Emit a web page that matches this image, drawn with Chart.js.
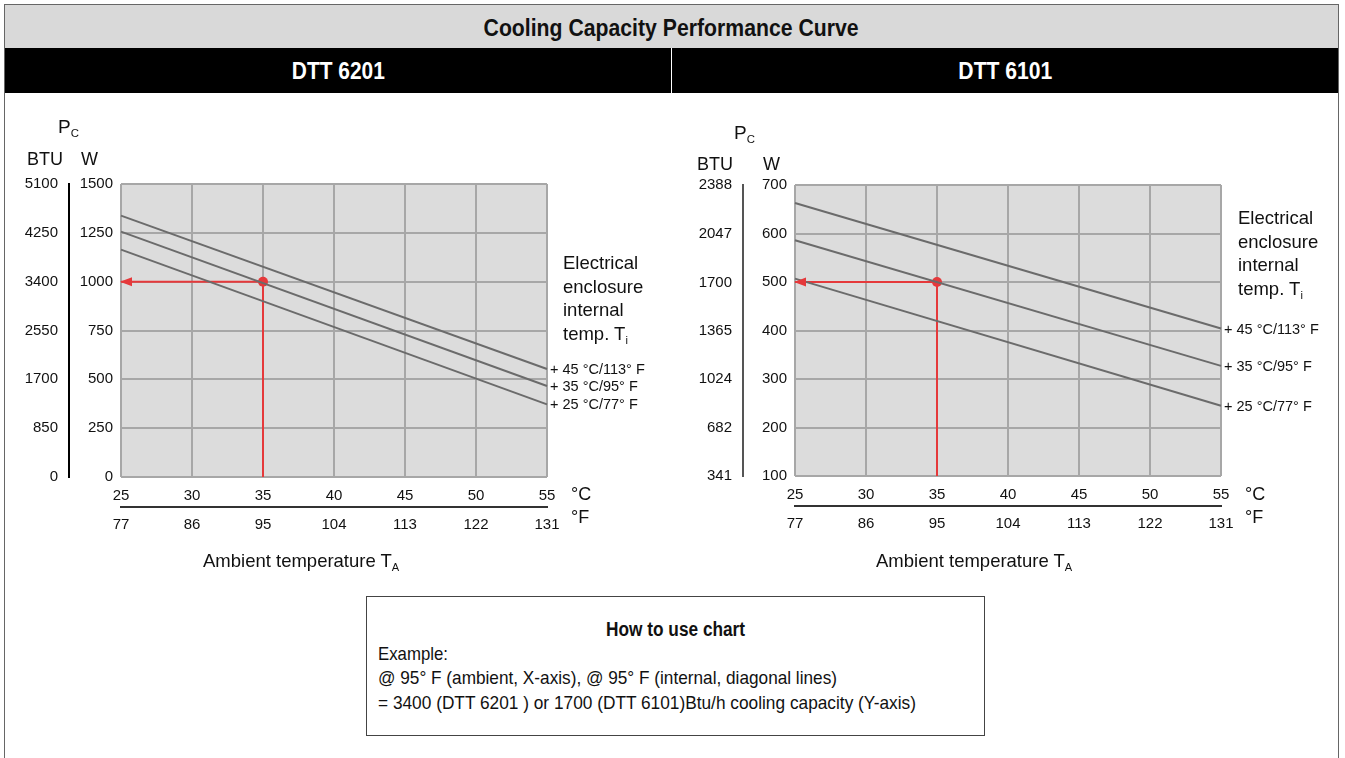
<!DOCTYPE html>
<html>
<head>
<meta charset="utf-8">
<script src="https://cdn.jsdelivr.net/npm/chart.js@4.4.1/dist/chart.umd.min.js"></script>
<style>
  body { margin: 0; width: 1345px; height: 758px; background: #fff; position: relative; overflow: hidden; font-family: "Liberation Sans", Arial, sans-serif; color: #111; }
  .abs { position: absolute; white-space: nowrap; }
  .fit { display: inline-block; white-space: nowrap; }
  .band { position: absolute; top: 48px; height: 45px; background: #000; color: #fff; font-weight: bold; font-size: 24px; line-height: 45px; text-align: center; }
  canvas { position: absolute; }
  sub { font-size: 60%; vertical-align: -0.35em; line-height: 0; }
</style>
</head>
<body>
<div class="abs" style="left:4px;top:4px;width:1333px;height:800px;border:1px solid #666;"></div>
<div class="abs" style="left:5px;top:5px;width:1333px;height:43px;background:#d9d9d9;font-weight:bold;font-size:24px;line-height:45px;text-align:center;"><span class="fit" data-w="375" style="transform-origin:center;">Cooling Capacity Performance Curve</span></div>
<div class="band" style="left:5px;width:666px;"><span class="fit" data-w="93" style="transform-origin:center;">DTT 6201</span></div>
<div class="band" style="left:672px;width:666px;"><span class="fit" data-w="94" style="transform-origin:center;">DTT 6101</span></div>

<canvas id="left" width="660" height="460" style="left:5px;top:100px;"></canvas>
<canvas id="right" width="655" height="460" style="left:678px;top:100px;"></canvas>

<div class="abs" style="left:366px;top:596px;width:617px;height:138px;border:1px solid #444;"></div>
<div class="abs" style="left:366px;top:617px;width:619px;text-align:center;font-weight:bold;font-size:20px;line-height:24px;"><span class="fit" data-w="139" style="transform-origin:center;">How to use chart</span></div>
<div class="abs" style="left:378px;top:642px;font-size:19px;line-height:24px;"><span class="fit" data-w="70" style="transform-origin:left;">Example:</span></div>
<div class="abs" style="left:378px;top:666px;font-size:19px;line-height:24px;"><span class="fit" data-w="459" style="transform-origin:left;">@ 95° F (ambient, X-axis), @ 95° F (internal, diagonal lines)</span></div>
<div class="abs" style="left:378px;top:691px;font-size:19px;line-height:24px;"><span class="fit" data-w="538" style="transform-origin:left;">= 3400 (DTT 6201 ) or 1700 (DTT 6101)Btu/h cooling capacity (Y-axis)</span></div>

<script>
// ambient temperature axis
const ambientC = [25, 30, 35, 40, 45, 50, 55];
const ambientF = [77, 86, 95, 104, 113, 122, 131];
const lineLabels = ['+ 45 °C/113° F', '+ 35 °C/95° F', '+ 25 °C/77° F'];
const lineEndsC = [25, 55];

// DTT 6201 (W at 25 °C and 55 °C ambient)
const left45 = [1338, 553];
const left35 = [1256, 466];
const left25 = [1164, 372];
const leftTicksW = [0, 250, 500, 750, 1000, 1250, 1500];
const leftTicksBTU = [0, 850, 1700, 2550, 3400, 4250, 5100];
const leftExample = [35, 1000];

// DTT 6101
const right45 = [663, 404];
const right35 = [586, 327];
const right25 = [507, 245];
const rightTicksW = [100, 200, 300, 400, 500, 600, 700];
const rightTicksBTU = [341, 682, 1024, 1365, 1700, 2047, 2388];
const rightExample = [35, 500];

const tickFont = { family: '"Liberation Sans", Arial, sans-serif', size: 15 };
const gridGray = '#a7a7a7';
const lineGray = '#6b6b6b';
const red = '#e5393b';

function setTicks(arr) {
  return s => { s.ticks = arr.map(v => ({ value: v })); };
}
const plain = v => String(v);

const decor = {
  id: 'decor',
  beforeDraw(chart) {
    const a = chart.chartArea, ctx = chart.ctx;
    ctx.save();
    ctx.fillStyle = '#dcdcdc';
    ctx.fillRect(a.left, a.top, a.right - a.left, a.bottom - a.top);
    ctx.restore();
  },
  afterDatasetsDraw(chart) {
    const ctx = chart.ctx;
    const xs = chart.scales.x, ys = chart.scales.y;
    ctx.save();
    // labels at the right end of each curve
    ctx.font = '14.5px "Liberation Sans", Arial, sans-serif';
    ctx.fillStyle = '#111';
    ctx.textBaseline = 'middle';
    chart.data.datasets.forEach(ds => {
      if (!ds.endLabel) return;
      const p = ds.data[ds.data.length - 1];
      ctx.fillText(ds.endLabel, xs.getPixelForValue(p.x) + 3, ys.getPixelForValue(p.y) + 1);
    });
    // arrow head on the example line
    const ex = chart.data.datasets.find(ds => ds.example);
    const p0 = ex.data[0];
    const ax = xs.getPixelForValue(p0.x), ay = ys.getPixelForValue(p0.y);
    ctx.fillStyle = red;
    ctx.beginPath();
    ctx.moveTo(ax - 1, ay);
    ctx.lineTo(ax + 11, ay - 4.5);
    ctx.lineTo(ax + 11, ay + 4.5);
    ctx.closePath();
    ctx.fill();
    ctx.restore();
  }
};

function curve(vals, label) {
  return {
    data: lineEndsC.map((c, i) => ({ x: c, y: vals[i] })),
    endLabel: label,
    borderColor: lineGray,
    borderWidth: 2,
    pointRadius: 0,
    clip: false
  };
}

function build(id, curves, ticksW, ticksBTU, example, btuBorder, pad) {
  new Chart(document.getElementById(id), {
    type: 'line',
    data: {
      datasets: [
        curve(curves[0], lineLabels[0]),
        curve(curves[1], lineLabels[1]),
        curve(curves[2], lineLabels[2]),
        {
          example: true,
          data: [
            { x: ambientC[0], y: example[1] },
            { x: example[0], y: example[1] },
            { x: example[0], y: ticksW[0] }
          ],
          borderColor: red,
          borderWidth: 2,
          pointRadius: [0, 5, 0],
          pointBackgroundColor: red,
          pointBorderWidth: 0,
          clip: false
        }
      ]
    },
    options: {
      responsive: false,
      animation: false,
      devicePixelRatio: 1,
      layout: { padding: pad },
      plugins: { legend: { display: false }, tooltip: { enabled: false } },
      scales: {
        x: {
          type: 'linear', position: 'bottom',
          min: ambientC[0], max: ambientC[ambientC.length - 1],
          afterBuildTicks: setTicks(ambientC),
          ticks: { font: tickFont, color: '#111', padding: 10, maxRotation: 0, callback: plain },
          grid: { color: gridGray, lineWidth: 2, drawTicks: false },
          border: { display: false },
          afterFit: s => { s.height = 30; }
        },
        xF: {
          type: 'linear', position: 'bottom',
          min: ambientF[0], max: ambientF[ambientF.length - 1],
          afterBuildTicks: setTicks(ambientF),
          ticks: { font: tickFont, color: '#111', padding: 9, maxRotation: 0, callback: plain },
          grid: { display: false, drawTicks: false },
          border: { display: true, color: '#333', width: 2 },
          afterFit: s => { s.height = 30; }
        },
        y: {
          type: 'linear', position: 'left',
          min: ticksW[0], max: ticksW[ticksW.length - 1],
          afterBuildTicks: setTicks(ticksW),
          ticks: { font: tickFont, color: '#111', padding: 8, callback: plain },
          grid: { color: gridGray, lineWidth: 2, drawTicks: false },
          border: { display: false },
          afterFit: s => { s.width = 52; }
        },
        yB: {
          type: 'linear', position: 'left',
          min: ticksBTU[0], max: ticksBTU[ticksBTU.length - 1],
          afterBuildTicks: setTicks(ticksBTU),
          ticks: { font: tickFont, color: '#111', padding: 11, callback: plain },
          grid: { display: false, drawTicks: false },
          border: { display: true, color: btuBorder, width: 2 },
          afterFit: s => { s.width = pad.btuW; }
        }
      }
    },
    plugins: [decor]
  });
}

build('left', [left45, left35, left25], leftTicksW, leftTicksBTU, leftExample, '#000',
  { left: 0, right: 118, top: 84, bottom: 23, btuW: 64 });
build('right', [right45, right35, right25], rightTicksW, rightTicksBTU, rightExample, '#555',
  { left: 0, right: 112, top: 85, bottom: 24, btuW: 65 });

// squeeze the header/footer text to the narrow look of the original
document.querySelectorAll('.fit').forEach(el => {
  const w = el.getBoundingClientRect().width;
  el.style.transform = 'scaleX(' + (el.dataset.w / w) + ')';
});
</script>

<!-- axis captions -->
<div class="abs" style="left:58px;top:114px;font-size:19px;line-height:26px;">P<sub>C</sub></div>
<div class="abs" style="left:27px;top:147px;font-size:18px;line-height:24px;">BTU</div>
<div class="abs" style="left:81px;top:147px;font-size:18px;line-height:24px;">W</div>
<div class="abs" style="left:571px;top:482px;font-size:18px;line-height:24px;">°C</div>
<div class="abs" style="left:571px;top:505px;font-size:18px;line-height:24px;">°F</div>
<div class="abs" style="left:563px;top:251px;font-size:18.5px;line-height:23.5px;">Electrical<br>enclosure<br>internal<br>temp. T<sub>i</sub></div>
<div class="abs" style="left:203px;top:548px;font-size:18.5px;line-height:26px;">Ambient temperature T<sub>A</sub></div>

<div class="abs" style="left:734px;top:120px;font-size:19px;line-height:26px;">P<sub>C</sub></div>
<div class="abs" style="left:697px;top:152px;font-size:18px;line-height:24px;">BTU</div>
<div class="abs" style="left:763px;top:152px;font-size:18px;line-height:24px;">W</div>
<div class="abs" style="left:1245px;top:482px;font-size:18px;line-height:24px;">°C</div>
<div class="abs" style="left:1245px;top:505px;font-size:18px;line-height:24px;">°F</div>
<div class="abs" style="left:1238px;top:206px;font-size:18.5px;line-height:23.5px;">Electrical<br>enclosure<br>internal<br>temp. T<sub>i</sub></div>
<div class="abs" style="left:876px;top:548px;font-size:18.5px;line-height:26px;">Ambient temperature T<sub>A</sub></div>
</body>
</html>
